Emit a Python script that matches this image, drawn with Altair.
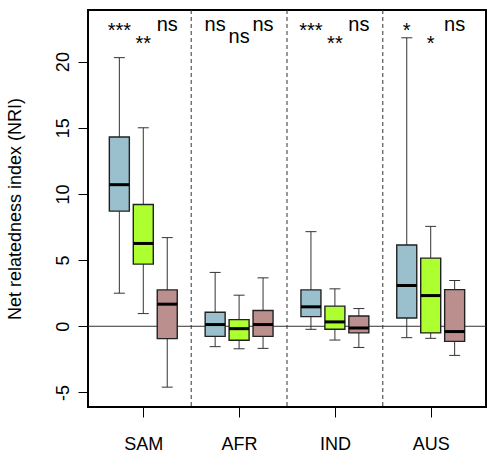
import altair as alt
import pandas as pd

groups = ["SAM", "AFR", "IND", "AUS"]
colors = ["#9AC0CD", "#ADFF2F", "#BC8F8F"]

# per group: [blue, green, brown]
w_lo = [[2.5, 0.96, -4.6], [-1.54, -1.7, -1.67], [-0.23, -1.04, -1.6], [-0.86, -0.91, -2.2]]
q1 = [[8.7, 4.7, -0.93], [-0.76, -1.06, -0.76], [0.73, -0.23, -0.5], [0.63, -0.5, -1.14]]
med = [[10.7, 6.26, 1.67], [0.13, -0.18, 0.13], [1.47, 0.33, -0.13], [3.08, 2.32, -0.4]]
q3 = [[14.3, 9.2, 2.75], [1.06, 0.5, 1.19], [2.75, 1.52, 0.78], [6.14, 5.15, 2.77]]
w_hi = [[20.3, 15.0, 6.7], [4.07, 2.35, 3.66], [7.15, 2.83, 1.34], [21.8, 7.55, 3.46]]
sig = [["***", "**", "ns"], ["ns", "ns", "ns"], ["***", "**", "ns"], ["*", "*", "ns"]]

FONT = "Liberation Sans"

rows = []
for g, name in enumerate(groups):
    for i in range(3):
        label = sig[g][i]
        is_star = label.startswith("*")
        tier = 1 if i == 1 else 0
        if is_star:
            py = 27 + 13 * tier
        else:
            py = 21 + 12 * tier
        rows.append(dict(group=name, series=i, pos=4 * g + i + 1,
                         lo=w_lo[g][i], q1=q1[g][i], med=med[g][i],
                         q3=q3[g][i], hi=w_hi[g][i], col=colors[i],
                         sig=label, py=py))
df = pd.DataFrame(rows)
div_df = pd.DataFrame({"x": [4 * (g + 1) for g in range(len(groups) - 1)]})

xs = alt.Scale(domain=[-0.1, 16.1], nice=False, zero=False)
ys = alt.Scale(domain=[-6.1, 23.9], nice=False, zero=False)

label_expr = "{" + ",".join(f"'{4*g+2}':'{n}'" for g, n in enumerate(groups)) + "}[datum.value]"

x_axis = alt.Axis(values=[4 * g + 2 for g in range(len(groups))], labelExpr=label_expr,
                  title=None, grid=False, domain=False, ticks=True, tickSize=10,
                  tickColor="black", tickWidth=1,
                  labelFont=FONT, labelFontSize=18, labelColor="black",
                  labelBaseline="alphabetic", labelPadding=32)
y_axis = alt.Axis(values=[-5, 0, 5, 10, 15, 20], title="Net relatedness index (NRI)",
                  labelExpr="'' + datum.value",
                  grid=False, domain=False, ticks=True, tickSize=10, tickColor="black",
                  tickWidth=1,
                  labelFont=FONT, labelFontSize=18, labelColor="black",
                  labelAngle=-90, labelAlign="center", labelBaseline="alphabetic",
                  labelPadding=10, titleFont=FONT, titleFontSize=18,
                  titleFontWeight="normal", titleColor="black", titleAngle=-90,
                  titleAlign="center", titleBaseline="alphabetic",
                  titleX=-68, titleY=198.5)

X = lambda f: alt.X(f, scale=xs, axis=x_axis)
Y = lambda f: alt.Y(f, scale=ys, axis=y_axis)

base = alt.Chart(df)

zero = alt.Chart(pd.DataFrame({"v": [0]})).mark_rule(color="#333333", strokeWidth=1).encode(
    y=Y("v:Q"))

dividers = alt.Chart(div_df).mark_rule(color="#333333", strokeWidth=1, strokeDash=[4, 3]).encode(
    x=X("x:Q"))

whisk_lo = base.mark_rule(color="#333333", strokeWidth=1).encode(
    x=X("pos:Q"), y=Y("lo:Q"), y2="q1:Q")
whisk_hi = base.mark_rule(color="#333333", strokeWidth=1).encode(
    x=X("pos:Q"), y=Y("q3:Q"), y2="hi:Q")
cap_lo = base.mark_tick(orient="horizontal", size=11, thickness=1, color="#333333", opacity=1).encode(
    x=X("pos:Q"), y=Y("lo:Q"))
cap_hi = base.mark_tick(orient="horizontal", size=11, thickness=1, color="#333333", opacity=1).encode(
    x=X("pos:Q"), y=Y("hi:Q"))

boxes = base.mark_bar(width=20, stroke="#222222", strokeWidth=1.4, opacity=1).encode(
    x=X("pos:Q"),
    y=Y("q1:Q"),
    y2="q3:Q",
    color=alt.Color("col:N", scale=None))

medians = base.mark_tick(orient="horizontal", size=20, thickness=3, color="black", opacity=1).encode(
    x=X("pos:Q"), y=Y("med:Q"))

texts = base.mark_text(font=FONT, fontSize=20, color="black", align="center",
                       baseline="alphabetic").encode(
    x=X("pos:Q"),
    y=alt.Y("py:Q", scale=None, axis=None),
    text="sig:N")

chart = alt.layer(zero, dividers, whisk_lo, whisk_hi, cap_lo, cap_hi, boxes, medians, texts).properties(
    width=398, height=397,
    autosize=alt.AutoSizeParams(type="none"),
    padding={"left": 88, "top": 10, "right": 1, "bottom": 47},
    background="white",
).configure_view(stroke="black", strokeWidth=2)

chart.save("out.html", embed_options={"renderer": "svg", "actions": False})
